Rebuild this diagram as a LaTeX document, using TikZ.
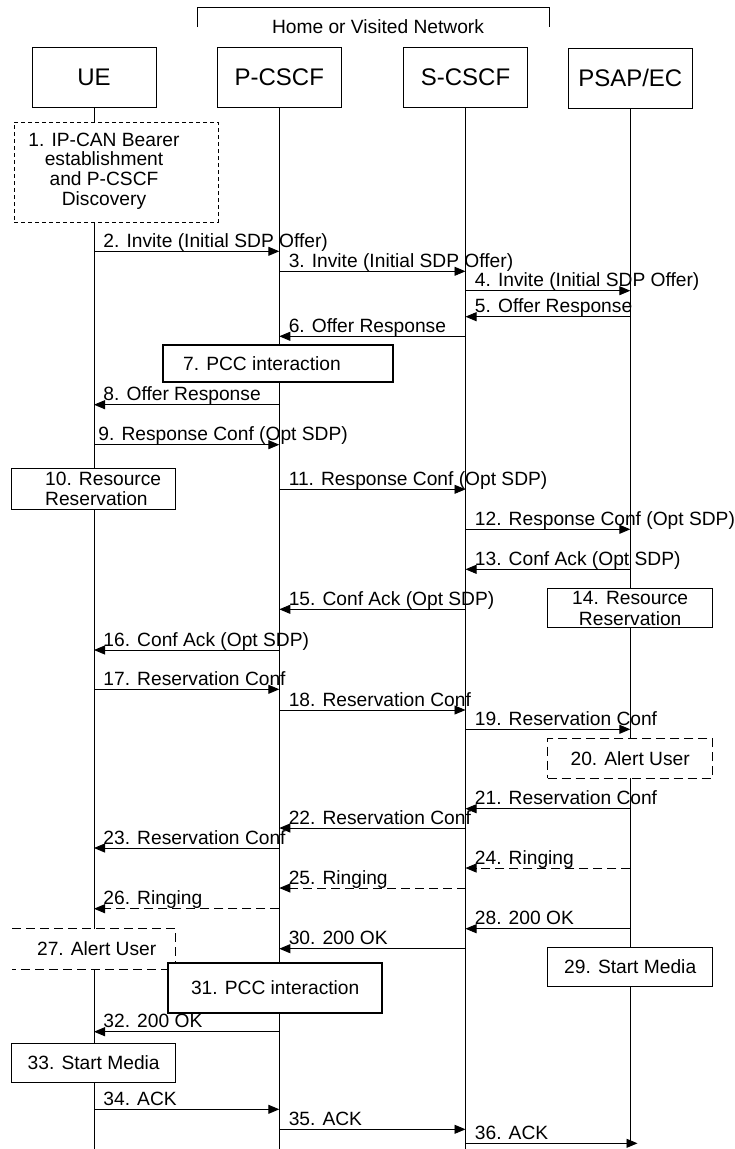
\documentclass[tikz,border=0pt]{standalone}
\usepackage{fontspec}
\setmainfont{Liberation Sans}
\usetikzlibrary{arrows.meta}
\newcommand\msgfont{\fontsize{19.2}{20.5}\selectfont}
\newcommand\myhdfont{\fontsize{24}{28}\selectfont}
\begin{document}
\begin{tikzpicture}[x=1pt,y=-1pt,
  life/.style={line width=0.9pt},
  msg/.style={line width=0.9pt,-{Triangle[length=11pt,width=9pt]}},
  dmsg/.style={msg,dash pattern=on 9pt off 5pt},
  lbl/.style={font=\msgfont,inner sep=0pt,anchor=base west,xshift=9pt,yshift=4pt},
  hdbox/.style={draw,line width=1pt,fill=white,minimum width=124pt,minimum height=60pt,font=\myhdfont,inner sep=0pt},
  sbox/.style={draw,line width=0.9pt,fill=white,inner sep=0pt,font=\msgfont,align=center},
  dbox/.style={sbox,dash pattern=on 9pt off 5pt},
  pcc/.style={sbox,line width=2pt},
  txt/.style={font=\msgfont,inner sep=0pt,align=center}]
\fill[white] (0,0) rectangle (734,1149);
\useasboundingbox (0,0) rectangle (734,1149);

% heads
\node[hdbox] (ue) at (94,77) {UE};
\node[hdbox] (pcscf) at (279.3,77) {P-CSCF};
\node[hdbox] (scscf) at (465.5,77) {S-CSCF};
\node[hdbox] (psap) at (630.3,78) {PSAP/EC};

% network bracket
\draw[line width=0.9pt] (197,27) -- (197,7) -- (549,7) -- (549,27);
\node[font=\msgfont,anchor=base,inner sep=0pt] (net) at (378,33) {Home or Visited Network};

% lifelines
\coordinate (ueB) at (ue |- 0,1149);
\coordinate (pB) at (pcscf |- 0,1149);
\coordinate (sB) at (scscf |- 0,1149);
\coordinate (eB) at (psap |- 0,1143);
\draw[life] (ue) -- (ueB);
\draw[life] (pcscf) -- (pB);
\draw[life] (scscf) -- (sB);
\draw[life] (psap) -- (eB);

% boxes
\node[sbox,dash pattern=on 4pt off 3pt,minimum width=204pt,minimum height=100pt] (b1) at (116,172) {};
\node[txt,font=\fontsize{19.2}{19.7}\selectfont] (t1) at (104,171) {1. IP-CAN Bearer\\establishment\\and P-CSCF\\Discovery};

\node[pcc,minimum width=229.7pt,minimum height=37.3pt] (b7) at (278.2,363.4) {};
\node[txt,anchor=west] (t7) at (183,364) {7. PCC interaction};

\node[sbox,minimum width=164pt,minimum height=40.7pt] (b10) at (93.7,488.7) {};
\node[txt,align=left,anchor=west] (t10) at (45,489) {10. Resource\\Reservation};

\node[sbox,minimum width=165pt,minimum height=39.4pt,font=\fontsize{19.2}{21}\selectfont] (b14) at (630.2,608) {14. Resource\\Reservation};
\node[dbox,minimum width=165pt,minimum height=39.7pt] (b20) at (630.2,758.2) {20. Alert User};

\fill[white] (0,928.7) rectangle (175.7,969);
\draw[line width=0.9pt,dash pattern=on 9pt off 5pt] (12,928.7) -- (175.7,928.7) -- (175.7,969) -- (12,969);
\node[txt] (t27) at (96.7,949) {27. Alert User};

\node[sbox,minimum width=165pt,minimum height=39.7pt] (b29) at (630.2,966.9) {29. Start Media};
\node[pcc,minimum width=213.7pt,minimum height=50pt] (b31) at (275.2,987.7) {31. PCC interaction};
\node[sbox,minimum width=164pt,minimum height=39.4pt] (b33) at (93.7,1063) {33. Start Media};

% messages
\draw[msg] (ue |- 0,251.3) -- (pcscf |- 0,251.3) node[lbl,pos=0] (m2) {2. Invite (Initial SDP Offer)};
\draw[msg] (pcscf |- 0,271.3) -- (scscf |- 0,271.3) node[lbl,pos=0] (m3) {3. Invite (Initial SDP Offer)};
\draw[msg] (scscf |- 0,290.7) -- (psap |- 0,290.7) node[lbl,pos=0] (m4) {4. Invite (Initial SDP Offer)};
\draw[msg] (psap |- 0,316.7) -- (scscf |- 0,316.7) node[lbl,pos=1] (m5) {5. Offer Response};
\draw[msg] (scscf |- 0,336.3) -- (pcscf |- 0,336.3) node[lbl,pos=1] (m6) {6. Offer Response};
\draw[msg] (pcscf |- 0,404.7) -- (ue |- 0,404.7) node[lbl,pos=1] (m8) {8. Offer Response};
\draw[msg] (ue |- 0,444.7) -- (pcscf |- 0,444.7) node[lbl,pos=0,xshift=-5pt] (m9) {9. Response Conf (Opt SDP)};
\draw[msg] (pcscf |- 0,489.3) -- (scscf |- 0,489.3) node[lbl,pos=0] (m11) {11. Response Conf (Opt SDP)};
\draw[msg] (scscf |- 0,529.3) -- (psap |- 0,529.3) node[lbl,pos=0] (m12) {12. Response Conf (Opt SDP)};
\draw[msg] (psap |- 0,569.3) -- (scscf |- 0,569.3) node[lbl,pos=1] (m13) {13. Conf Ack (Opt SDP)};
\draw[msg] (scscf |- 0,609.3) -- (pcscf |- 0,609.3) node[lbl,pos=1] (m15) {15. Conf Ack (Opt SDP)};
\draw[msg] (pcscf |- 0,650) -- (ue |- 0,650) node[lbl,pos=1] (m16) {16. Conf Ack (Opt SDP)};
\draw[msg] (ue |- 0,689.3) -- (pcscf |- 0,689.3) node[lbl,pos=0] (m17) {17. Reservation Conf};
\draw[msg] (pcscf |- 0,710) -- (scscf |- 0,710) node[lbl,pos=0] (m18) {18. Reservation Conf};
\draw[msg] (scscf |- 0,729.3) -- (psap |- 0,729.3) node[lbl,pos=0] (m19) {19. Reservation Conf};
\draw[msg] (psap |- 0,808.7) -- (scscf |- 0,808.7) node[lbl,pos=1] (m21) {21. Reservation Conf};
\draw[msg] (scscf |- 0,828) -- (pcscf |- 0,828) node[lbl,pos=1] (m22) {22. Reservation Conf};
\draw[msg] (pcscf |- 0,848) -- (ue |- 0,848) node[lbl,pos=1] (m23) {23. Reservation Conf};
\draw[dmsg] (psap |- 0,868) -- (scscf |- 0,868) node[lbl,pos=1] (m24) {24. Ringing};
\draw[dmsg] (scscf |- 0,888) -- (pcscf |- 0,888) node[lbl,pos=1] (m25) {25. Ringing};
\draw[dmsg] (pcscf |- 0,908.7) -- (ue |- 0,908.7) node[lbl,pos=1] (m26) {26. Ringing};
\draw[msg] (psap |- 0,928.7) -- (scscf |- 0,928.7) node[lbl,pos=1] (m28) {28. 200 OK};
\draw[msg] (scscf |- 0,948.7) -- (pcscf |- 0,948.7) node[lbl,pos=1] (m30) {30. 200 OK};
\draw[msg] (pcscf |- 0,1031.7) -- (ue |- 0,1031.7) node[lbl,pos=1] (m32) {32. 200 OK};
\draw[msg] (ue |- 0,1109.3) -- (pcscf |- 0,1109.3) node[lbl,pos=0] (m34) {34. ACK};
\draw[msg] (pcscf |- 0,1129.3) -- (scscf |- 0,1129.3) node[lbl,pos=0] (m35) {35. ACK};
\coordinate (e36) at (637.5,1143.3);
\draw[msg] (scscf |- 0,1143.3) -- (e36) node[lbl,pos=0] (m36) {36. ACK};
\end{tikzpicture}
\end{document}
